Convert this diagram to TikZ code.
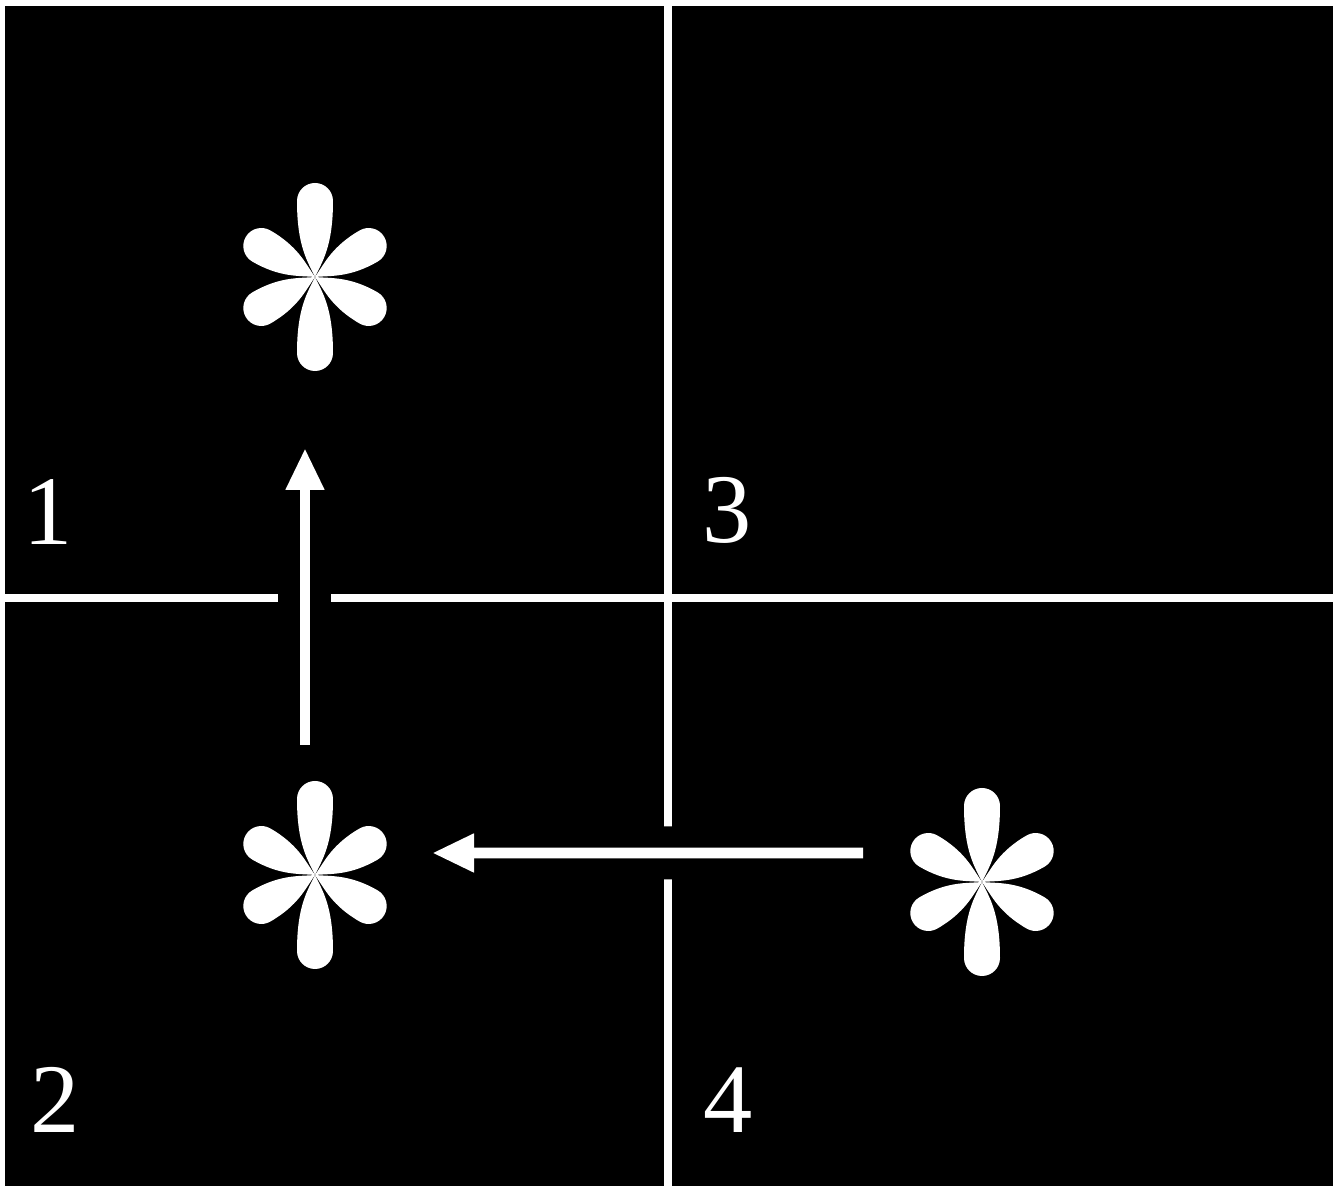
\documentclass[tikz,border=0pt]{standalone}
\usepackage{fontspec}
\setmainfont{Liberation Serif}
\usepackage{tikz}
\usetikzlibrary{positioning,arrows.meta,calc}

\begin{document}
\begin{tikzpicture}[
  grid/.style={draw=white,line width=2.2pt},
  num/.style={text=white,font=\fontsize{28}{28}\selectfont,inner sep=0pt},
  astk/.style={circle,inner sep=0pt,minimum size=1.95cm},
  ar/.style={-{Triangle[length=4.2mm,width=3.6mm]},draw=white,line width=3.1pt,
    preaction={draw=black,line width=5.3mm,-}}]
  \useasboundingbox (0,0) rectangle (13.41,11.86);
  \fill[black] (0.05,0) rectangle (13.33,11.80);

  % quadrant lines
  \draw[grid] (0.05,5.88) -- (13.33,5.88);
  \draw[grid] (6.68,11.80) -- (6.68,0);

  \foreach \t/\x/\y in {1/0.48/6.74,2/0.55/0.86,3/7.27/6.76,4/7.28/0.86}
    \node[num] (q\t) at (\x,\y) {\t};

  \node[astk] (s1) at (3.15,9.09) {};
  \node[astk] (s2) at (3.15,3.11) {};
  \node[astk] (s3) at (9.82,3.04) {};
  % six petals per asterisk, the upright ones longer
  \foreach \s in {s1,s2,s3}
    \foreach \a/\l in {30/0.62,90/0.76,150/0.62,210/0.62,270/0.76,330/0.62}
      \fill[white,shift={(\s.center)},rotate=\a]
        (0,0) .. controls (0.15,0.07) and (0.3,0.18) .. (\l,0.18)
        arc[start angle=90,end angle=-90,radius=0.18]
        .. controls (0.3,-0.18) and (0.15,-0.07) .. cycle;

  \coordinate (up0) at ($(s2.center)+(-0.10,1.30)$);
  \coordinate (up1) at ($(s1.center)+(-0.10,-1.71)$);
  \coordinate (lf0) at ($(s3.center)+(-1.19,0.29)$);
  \coordinate (lf1) at ($(s2.center)+(1.17,0.22)$);
  \draw[ar] (up0) -- (up1);
  \draw[ar] (lf0) -- (lf1);
\end{tikzpicture}
\end{document}
